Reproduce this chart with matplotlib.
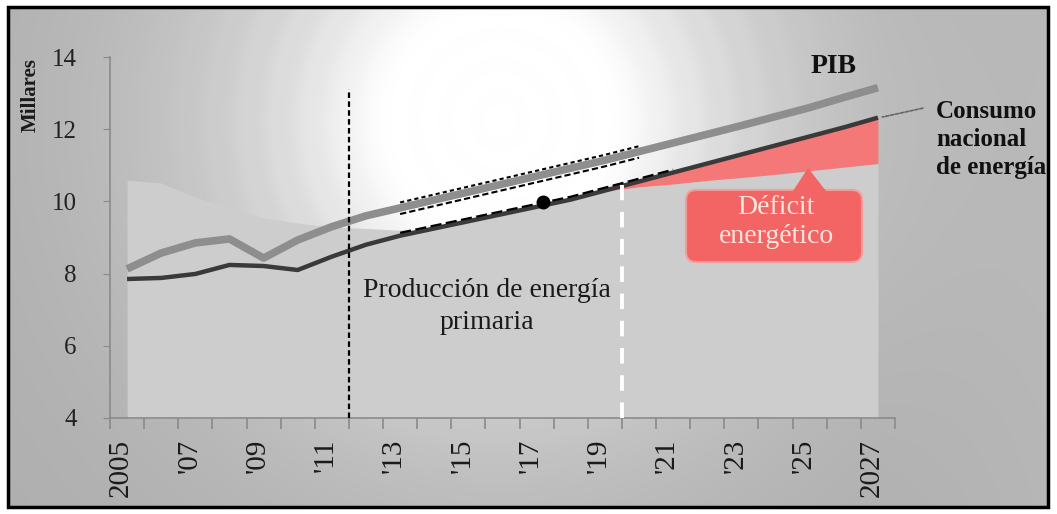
import matplotlib
matplotlib.use("Agg")
import matplotlib.pyplot as plt
import numpy as np
from matplotlib.patches import FancyBboxPatch, Polygon, Rectangle
from matplotlib.transforms import Affine2D, ScaledTranslation

plt.rcParams["font.family"] = ["Liberation Serif", "DejaVu Serif"]

# Data (millares), one value per year
years = np.arange(2005, 2028)
pib = [8.13, 8.57, 8.85, 8.96, 8.43, 8.93, 9.30, 9.60, 9.82, 10.04, 10.26, 10.48,
       10.70, 10.92, 11.14, 11.38, 11.62, 11.86, 12.10, 12.35, 12.60, 12.88, 13.15]
consumo = [7.85, 7.88, 7.99, 8.24, 8.21, 8.10, 8.47, 8.80, 9.05, 9.25, 9.45, 9.65,
           9.85, 10.05, 10.30, 10.55, 10.80, 11.05, 11.30, 11.55, 11.80, 12.05, 12.32]
produccion = [10.59, 10.51, 10.12, 9.81, 9.54, 9.40, 9.29, 9.25, 9.20, 9.25, 9.43, 9.63,
              9.83, 10.03, 10.28, 10.40, 10.48, 10.58, 10.66, 10.75, 10.85, 10.95, 11.05]
tick_years = [2005, 2007, 2009, 2011, 2013, 2015, 2017, 2019, 2021, 2023, 2025, 2027]
tick_labels = ["2005", "'07", "'09", "'11", "'13", "'15", "'17", "'19", "'21", "'23", "'25", "2027"]
yticks = [4, 6, 8, 10, 12, 14]
hist_end = 2011.5
proj_start = 2019.5

W, H = 1057, 514
fig = plt.figure(figsize=(W / 100, H / 100), dpi=100)
fig.patch.set_facecolor("white")
px = Affine2D().scale(1 / W, -1 / H).translate(0, 1) + fig.transFigure

# radial glow background inside the frame
bg = fig.add_axes([8 / W, 1 - 507 / H, 1040 / W, 500 / H])
gx, gy = np.meshgrid(np.arange(8, 1048), np.arange(7, 507))
r = np.hypot(gx - 500, gy - 120)
g = 0.68 + 0.32 * np.exp(-(np.clip(r - 115, 0, None) / 175) ** 1.2)
g += 0.006 * np.sin(r / 5.0) * np.exp(-((r - 230) / 90) ** 2)
g += 0.03 * np.clip((gx - 880) / 170, 0, 1)
g = np.clip(g, 0, 1)
bg.imshow(np.dstack([g, g, g]), aspect="auto", extent=[0, 1, 0, 1], origin="upper")
bg.axis("off")

ax = fig.add_axes([110 / W, 1 - 418 / H, 785 / W, 361 / H])
ax.set_facecolor("none")

cons = np.array(consumo)
prod = np.array(produccion)
yrs = years.astype(float)

ax.fill_between(yrs, 0, prod, color="#cdcdcd", lw=0, zorder=1)
ax.fill_between(yrs, prod, cons, where=yrs >= 2019, color="#f47878", lw=0, zorder=2)

ax.plot(yrs, pib, color="#8e8e8e", lw=5.5, solid_capstyle="butt", zorder=4)
ax.plot(yrs, consumo, color="#3a3a3a", lw=3.2, solid_capstyle="butt", zorder=5)

# scanned outline artefacts around the lines in the bright area
seg = (yrs >= 2013) & (yrs <= 2020)
ax.plot(yrs[seg], np.array(pib)[seg] + 0.15, color="black", lw=1.5, ls=(0, (2, 1.5)), zorder=6)
ax.plot(yrs[seg], np.array(pib)[seg] - 0.17, color="black", lw=1.5, ls=(0, (3, 1.5)), zorder=6)
seg2 = (yrs >= 2013) & (yrs <= 2021)
ax.plot(yrs[seg2], cons[seg2] + 0.08, color="black", lw=1.6, ls=(0, (5, 2)), zorder=6)
ax.plot([2017.2], [consumo[12] + 0.12], marker="o", ms=9, color="black", zorder=6)

ax.plot([hist_end, hist_end], [4, 13.1], color="black", lw=1.6, ls=(0, (2.5, 1.5)), zorder=7)
ax.plot([proj_start, proj_start], [4, 10.45], color="white", lw=2.8, ls=(0, (4, 3)), zorder=7)

ax.set_xlim(2004.5, 2027.5)
ax.set_ylim(4, 14)
for s in ["top", "right"]:
    ax.spines[s].set_visible(False)
for s in ["left", "bottom"]:
    ax.spines[s].set_color("#8a8a8a")
    ax.spines[s].set_linewidth(1.2)

ax.set_yticks(yticks)
ax.set_yticklabels([str(v) for v in yticks], fontsize=18, color="#222222")
ax.tick_params(axis="y", which="major", length=5, color="#8a8a8a", pad=19)
ax.set_xticks(tick_years)
ax.set_xticklabels(tick_labels, rotation=90, fontsize=21, color="#1a1a1a")
ax.set_xticks(np.arange(2004.5, 2028, 1.0), minor=True)
ax.tick_params(axis="x", which="major", length=0, pad=15)
ax.tick_params(axis="x", which="minor", length=8, color="#8a8a8a", width=1.2)
shift = ScaledTranslation(-6 / 100, 0, fig.dpi_scale_trans)
for lab in ax.get_xticklabels():
    lab.set_transform(lab.get_transform() + shift)

fig.text(31 / W, 1 - 95 / H, "Millares", rotation=90, fontsize=15, fontweight="bold",
         ha="center", va="center", color="#1a1a1a")
fig.text(834 / W, 1 - 73 / H, "PIB", fontsize=20, fontweight="bold", ha="center",
         va="baseline", color="#111111")
fig.text(936 / W, 1 - 100 / H, "Consumo\nnacional\nde energía", fontsize=18,
         fontweight="bold", ha="left", va="top", linespacing=1.27, color="#111111")
fig.text(487 / W, 1 - 278 / H, "Producción de energía\nprimaria", fontsize=20,
         ha="center", va="top", linespacing=1.36, color="#1a1a1a")

ax.annotate("", xy=(2027.05, consumo[-1]), xytext=(2028.4, 12.6),
            arrowprops=dict(arrowstyle="-", color="#666666", lw=1.2, ls=(0, (2, 1))),
            annotation_clip=False)

# callout for the deficit
box = FancyBboxPatch((686, 190), 176, 72, boxstyle="round,pad=0,rounding_size=10",
                     transform=px, facecolor="#f36464", edgecolor="#f79a9a", lw=1.5, zorder=8)
fig.add_artist(box)
tri = Polygon([(793, 191), (808, 168), (826, 191)], closed=True, transform=px,
              facecolor="#f36464", edgecolor="none", zorder=8)
fig.add_artist(tri)
fig.text(776 / W, 1 - 222 / H, "Déficit\nenergético", fontsize=20, ha="center", va="center",
         linespacing=1.2, color="#fde6dd", zorder=9)

frame = Rectangle((8, 7), 1040, 500, transform=px, fill=False, edgecolor="black", lw=2.5)
fig.add_artist(frame)

fig.savefig("out.png", dpi=100)
